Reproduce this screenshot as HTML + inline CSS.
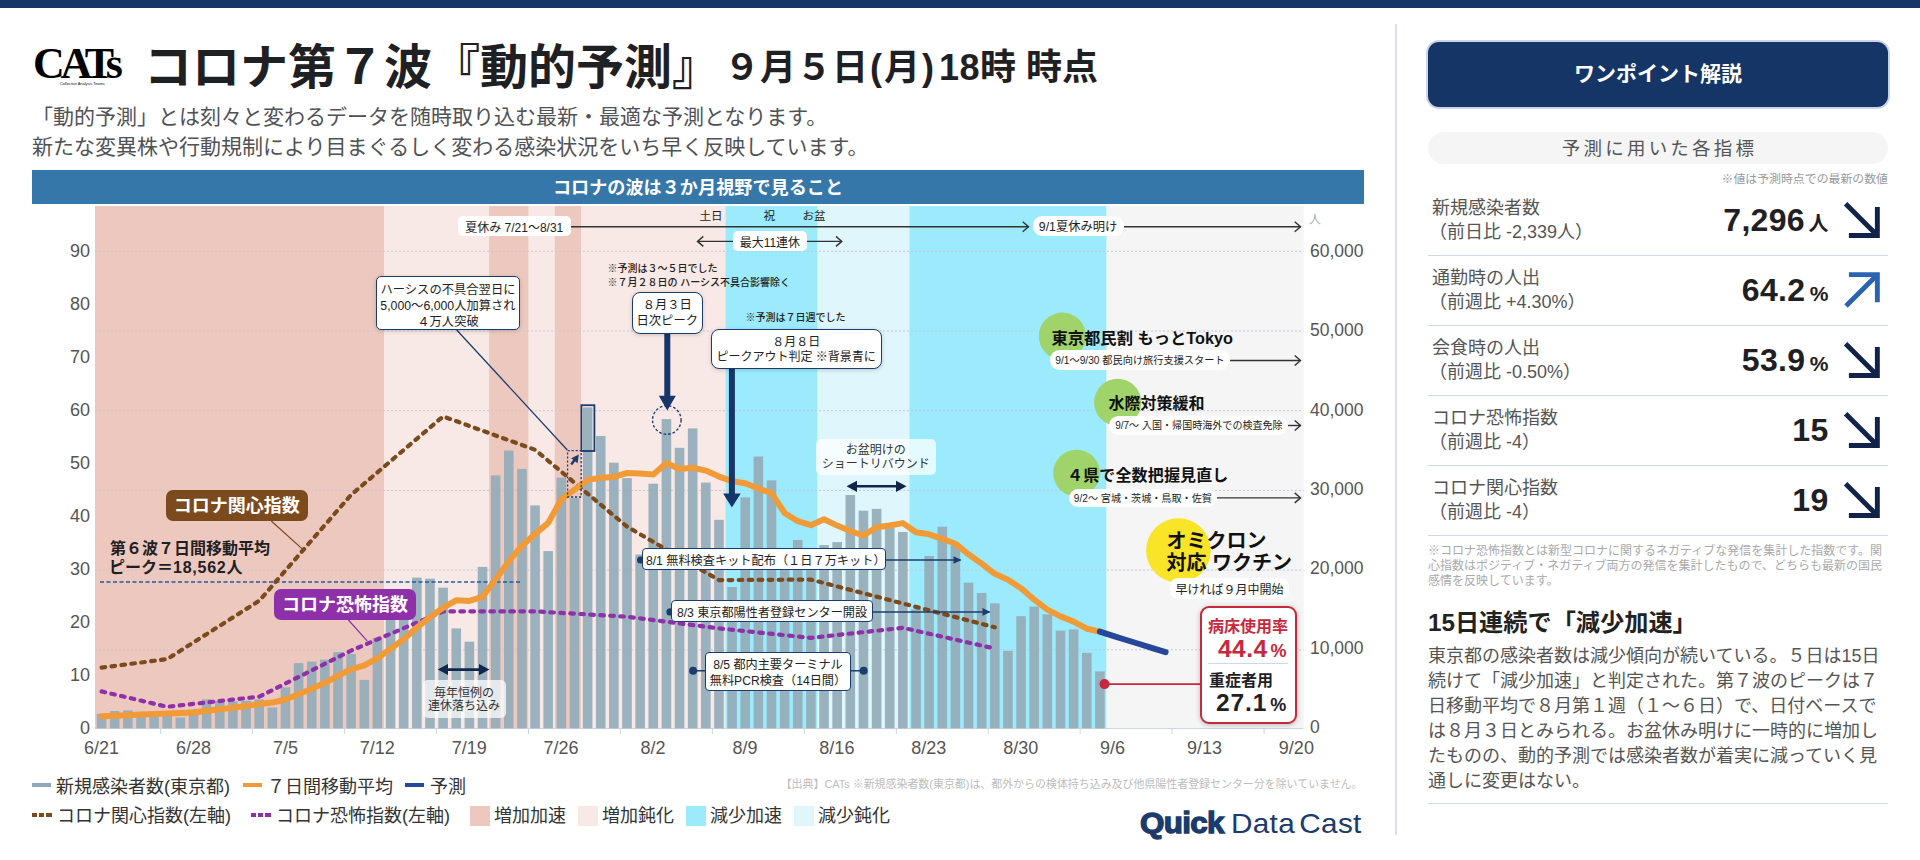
<!DOCTYPE html>
<html lang="ja">
<head>
<meta charset="utf-8">
<title>コロナ第７波『動的予測』</title>
<style>
*{box-sizing:border-box;margin:0;padding:0}
html,body{width:1920px;height:860px;overflow:hidden;background:#fff}
body{position:relative;font-family:"Liberation Sans","Noto Sans CJK JP",sans-serif;color:#222;}
.abs{position:absolute;white-space:nowrap}
.topbar{position:absolute;left:0;top:0;width:1920px;height:7.6px;background:#163668}
.logo{position:absolute;left:33px;top:38px;width:92px;height:52px}
.logo .w{position:absolute;left:0;top:0;font-family:"Liberation Serif","Noto Serif CJK SC",serif;font-weight:700;font-size:44px;line-height:52px;letter-spacing:-4.3px;color:#000;white-space:nowrap}
.logo .w small{font-size:33px;letter-spacing:-2px}
.logo .t{position:absolute;left:27px;top:42.6px;font-size:3.9px;line-height:5px;color:#111;white-space:nowrap;letter-spacing:0}
.title{position:absolute;left:144px;top:36.2px;font-size:48px;line-height:64px;font-weight:700;color:#1f2024;white-space:nowrap}
.date{position:absolute;left:724px;top:41px;font-size:36px;line-height:54px;font-weight:700;color:#1f2024;white-space:nowrap}
.sub{position:absolute;left:32px;font-size:21px;line-height:30px;color:#505256;white-space:nowrap}
.banner{position:absolute;left:32px;top:170px;width:1332px;height:33.5px;background:#3677aa;color:#fff;font-weight:700;font-size:18.15px;line-height:37px;text-align:center;overflow:hidden}
svg.chart{position:absolute;left:0;top:0}
.yl{position:absolute;width:60px;text-align:right;font-size:18px;line-height:20px;color:#555;left:30px}
.yr{position:absolute;left:1310px;font-size:17.5px;line-height:20px;color:#555}
.xl{position:absolute;width:80px;text-align:center;font-size:18px;line-height:20px;color:#555;top:737.5px}
.leg{position:absolute;font-size:18px;line-height:24px;color:#333;white-space:nowrap}
.leg i{position:absolute;display:block}
.src{position:absolute;right:557.5px;top:777px;font-size:10.95px;line-height:14px;color:#bdbdbd;white-space:nowrap}
.qdc{position:absolute;left:1140px;top:803px;height:40px;white-space:nowrap;color:#1b3b6d}
.qdc b{display:inline-block;font-size:29px;font-weight:700;letter-spacing:-0.6px;-webkit-text-stroke:1.3px #1b3b6d;line-height:40px;transform:scaleX(1.08);transform-origin:0 50%}
.qdc span{display:inline-block;font-size:27.5px;line-height:40px;margin-left:13px;letter-spacing:0.3px;word-spacing:-4px;transform:scaleX(1.08);transform-origin:0 50%}
.vdiv{position:absolute;left:1395px;top:24px;width:1.5px;height:811px;background:#d9dfec}
/* chart annotation boxes */
.pill{position:absolute;background:#fff;border-radius:7px;font-size:11.5px;line-height:19px;text-align:center;color:#222;white-space:nowrap}
.cbox{position:absolute;background:#fff;border:1.6px solid #1c3c6e;border-radius:6px;text-align:center;color:#222;white-space:nowrap;box-shadow:0 1px 4px rgba(0,0,0,.18)}
.tbox{position:absolute;background:rgba(255,255,255,.72);border-radius:5px;text-align:center;color:#333;white-space:nowrap;font-size:12px;line-height:15.5px}
.tag{position:absolute;border-radius:7px;color:#fff;font-weight:700;font-size:17.5px;text-align:center;white-space:nowrap}
.ev{position:absolute;font-weight:700;font-size:16px;line-height:22px;color:#111;white-space:nowrap}
.note{position:absolute;font-size:10px;line-height:14px;color:#222;white-space:nowrap;font-weight:500}
/* right panel */
.btn{position:absolute;left:1428px;top:42px;width:460px;height:65px;background:#163567;border-radius:11px;box-shadow:0 0 0 2px #ccd3ea;color:#fff;font-weight:700;font-size:21px;line-height:63.4px;text-align:center}
.gpill{position:absolute;left:1428px;top:132px;width:460px;height:32px;background:#f5f5f5;border-radius:16px;color:#555;font-size:18.5px;line-height:34px;text-align:center;letter-spacing:3.2px;overflow:hidden;padding-left:3px}
.rnote{position:absolute;right:32px;top:171px;font-size:11.9px;line-height:16px;color:#999;white-space:nowrap}
.row{position:absolute;left:1428px;width:460px;height:70px;border-bottom:1px solid #cfd8e6}
.row .l{position:absolute;left:4px;top:10px;font-size:18px;line-height:24px;color:#555;white-space:nowrap}
.row .l span{margin-left:-3px}
.row .v{position:absolute;right:59.5px;top:10.8px;font-weight:700;font-size:32px;letter-spacing:0.3px;line-height:46px;color:#1f2024;white-space:nowrap}
.row .v small{font-size:20px;margin-left:3.6px;letter-spacing:0}
.row .v small.p{font-size:21px;margin-left:4.5px}
.row svg{position:absolute;left:415px;top:15px}
.foot{position:absolute;left:1428px;top:544.2px;width:462px;font-size:12px;line-height:14.8px;color:#aaa;}
.h2{position:absolute;left:1428px;top:606px;font-size:24.2px;line-height:34px;font-weight:700;color:#222;white-space:nowrap}
.body{position:absolute;left:1428px;top:644px;width:466px;font-size:18px;line-height:25px;color:#555}
.bline{position:absolute;left:1428px;top:803px;width:460px;height:1px;background:#cfd8e3}
.bed{position:absolute;left:1199.7px;top:605.6px;width:97.6px;height:118.6px;background:#fff;border:2.6px solid #c8283c;border-radius:9px;box-shadow:0 1px 5px rgba(0,0,0,.25)}

</style>
</head>
<body>
<div class="topbar"></div>
<div class="logo"><div class="w">CATs</div><div class="t">Collective Analysis Teams</div></div>
<div class="title">コロナ第７波『動的予測』</div>
<div class="date">９月５日<span style="letter-spacing:2px;margin-left:2px">(月)</span><span style="letter-spacing:0.5px;margin-left:3px">18</span>時 時点</div>
<div class="sub" style="top:102px">「動的予測」とは刻々と変わるデータを随時取り込む最新・最適な予測となります。</div>
<div class="sub" style="top:132px">新たな変異株や行動規制により目まぐるしく変わる感染状況をいち早く反映しています。</div>
<div class="banner">コロナの波は３か月視野で見ること</div>
<svg class="chart" width="1400" height="860" viewBox="0 0 1400 860">
<rect x="95.00" y="206.0" width="289.29" height="522.0" fill="#edc8bf"/>
<rect x="383.99" y="206.0" width="105.39" height="522.0" fill="#f9e9e6"/>
<rect x="489.08" y="206.0" width="39.71" height="522.0" fill="#edc8bf"/>
<rect x="528.48" y="206.0" width="26.57" height="522.0" fill="#f9e9e6"/>
<rect x="554.76" y="206.0" width="26.57" height="522.0" fill="#edc8bf"/>
<rect x="581.03" y="206.0" width="144.79" height="522.0" fill="#f9e9e6"/>
<rect x="725.52" y="206.0" width="92.25" height="522.0" fill="#9cebfc"/>
<rect x="817.47" y="206.0" width="92.25" height="522.0" fill="#dff6fc"/>
<rect x="909.42" y="206.0" width="197.34" height="522.0" fill="#9cebfc"/>
<rect x="1106.46" y="206.0" width="197.34" height="522.0" fill="#f5f5f5"/>
<line x1="95.0" x2="1303.5" y1="649.8" y2="649.8" stroke="#c6c6de" stroke-width="1" stroke-dasharray="2 2"/>
<line x1="95.0" x2="1303.5" y1="570.1" y2="570.1" stroke="#c6c6de" stroke-width="1" stroke-dasharray="2 2"/>
<line x1="95.0" x2="1303.5" y1="490.4" y2="490.4" stroke="#c6c6de" stroke-width="1" stroke-dasharray="2 2"/>
<line x1="95.0" x2="1303.5" y1="410.7" y2="410.7" stroke="#c6c6de" stroke-width="1" stroke-dasharray="2 2"/>
<line x1="95.0" x2="1303.5" y1="331.0" y2="331.0" stroke="#c6c6de" stroke-width="1" stroke-dasharray="2 2"/>
<line x1="95.0" x2="1303.5" y1="251.3" y2="251.3" stroke="#c6c6de" stroke-width="1" stroke-dasharray="2 2"/>
<line x1="95.0" x2="1303.5" y1="728.5" y2="728.5" stroke="#cdd5e6" stroke-width="1"/>
<line x1="160.7" x2="160.7" y1="728.0" y2="734.0" stroke="#cdd5e6" stroke-width="1"/>
<line x1="252.6" x2="252.6" y1="728.0" y2="734.0" stroke="#cdd5e6" stroke-width="1"/>
<line x1="344.6" x2="344.6" y1="728.0" y2="734.0" stroke="#cdd5e6" stroke-width="1"/>
<line x1="436.5" x2="436.5" y1="728.0" y2="734.0" stroke="#cdd5e6" stroke-width="1"/>
<line x1="528.5" x2="528.5" y1="728.0" y2="734.0" stroke="#cdd5e6" stroke-width="1"/>
<line x1="620.4" x2="620.4" y1="728.0" y2="734.0" stroke="#cdd5e6" stroke-width="1"/>
<line x1="712.4" x2="712.4" y1="728.0" y2="734.0" stroke="#cdd5e6" stroke-width="1"/>
<line x1="804.3" x2="804.3" y1="728.0" y2="734.0" stroke="#cdd5e6" stroke-width="1"/>
<line x1="896.3" x2="896.3" y1="728.0" y2="734.0" stroke="#cdd5e6" stroke-width="1"/>
<line x1="988.2" x2="988.2" y1="728.0" y2="734.0" stroke="#cdd5e6" stroke-width="1"/>
<line x1="1080.2" x2="1080.2" y1="728.0" y2="734.0" stroke="#cdd5e6" stroke-width="1"/>
<line x1="1172.1" x2="1172.1" y1="728.0" y2="734.0" stroke="#cdd5e6" stroke-width="1"/>
<line x1="1264.1" x2="1264.1" y1="728.0" y2="734.0" stroke="#cdd5e6" stroke-width="1"/>
<g fill="#95adba" fill-opacity="0.94">
<rect x="96.77" y="713.9" width="9.6" height="14.5"/>
<rect x="109.90" y="711.0" width="9.6" height="17.4"/>
<rect x="123.04" y="710.4" width="9.6" height="18.0"/>
<rect x="136.18" y="712.2" width="9.6" height="16.2"/>
<rect x="149.31" y="712.4" width="9.6" height="16.0"/>
<rect x="162.45" y="713.6" width="9.6" height="14.8"/>
<rect x="175.58" y="717.5" width="9.6" height="10.9"/>
<rect x="188.72" y="709.6" width="9.6" height="18.8"/>
<rect x="201.85" y="699.3" width="9.6" height="29.1"/>
<rect x="214.99" y="700.7" width="9.6" height="27.7"/>
<rect x="228.13" y="701.3" width="9.6" height="27.1"/>
<rect x="241.26" y="700.8" width="9.6" height="27.6"/>
<rect x="254.40" y="699.4" width="9.6" height="29.0"/>
<rect x="267.53" y="707.5" width="9.6" height="20.9"/>
<rect x="280.67" y="687.3" width="9.6" height="41.1"/>
<rect x="293.81" y="663.1" width="9.6" height="65.3"/>
<rect x="306.94" y="661.6" width="9.6" height="66.8"/>
<rect x="320.08" y="659.6" width="9.6" height="68.8"/>
<rect x="333.21" y="652.1" width="9.6" height="76.3"/>
<rect x="346.35" y="654.0" width="9.6" height="74.4"/>
<rect x="359.49" y="679.9" width="9.6" height="48.5"/>
<rect x="372.62" y="637.8" width="9.6" height="90.6"/>
<rect x="385.76" y="595.0" width="9.6" height="133.4"/>
<rect x="398.89" y="596.7" width="9.6" height="131.7"/>
<rect x="412.03" y="577.6" width="9.6" height="150.8"/>
<rect x="425.16" y="578.7" width="9.6" height="149.7"/>
<rect x="438.30" y="587.7" width="9.6" height="140.7"/>
<rect x="451.44" y="628.4" width="9.6" height="100.0"/>
<rect x="464.57" y="641.7" width="9.6" height="86.7"/>
<rect x="477.71" y="566.9" width="9.6" height="161.5"/>
<rect x="490.84" y="475.4" width="9.6" height="253.0"/>
<rect x="503.98" y="450.5" width="9.6" height="277.9"/>
<rect x="517.12" y="468.9" width="9.6" height="259.5"/>
<rect x="530.25" y="505.4" width="9.6" height="223.0"/>
<rect x="543.39" y="551.1" width="9.6" height="177.3"/>
<rect x="556.52" y="477.7" width="9.6" height="250.7"/>
<rect x="569.66" y="498.1" width="9.6" height="230.3"/>
<rect x="582.80" y="407.4" width="9.6" height="321.0"/>
<rect x="595.93" y="436.0" width="9.6" height="292.4"/>
<rect x="609.07" y="462.7" width="9.6" height="265.7"/>
<rect x="622.20" y="478.1" width="9.6" height="250.3"/>
<rect x="635.34" y="554.5" width="9.6" height="173.9"/>
<rect x="648.47" y="483.7" width="9.6" height="244.7"/>
<rect x="661.61" y="419.1" width="9.6" height="309.3"/>
<rect x="674.75" y="447.8" width="9.6" height="280.6"/>
<rect x="687.88" y="428.4" width="9.6" height="300.0"/>
<rect x="701.02" y="482.6" width="9.6" height="245.8"/>
<rect x="714.15" y="519.8" width="9.6" height="208.6"/>
<rect x="727.29" y="587.0" width="9.6" height="141.4"/>
<rect x="740.43" y="497.4" width="9.6" height="231.0"/>
<rect x="753.56" y="456.5" width="9.6" height="271.9"/>
<rect x="766.70" y="480.4" width="9.6" height="248.0"/>
<rect x="779.83" y="566.9" width="9.6" height="161.5"/>
<rect x="792.97" y="540.0" width="9.6" height="188.4"/>
<rect x="806.10" y="548.3" width="9.6" height="180.1"/>
<rect x="819.24" y="545.1" width="9.6" height="183.3"/>
<rect x="832.38" y="542.1" width="9.6" height="186.3"/>
<rect x="845.51" y="495.0" width="9.6" height="233.4"/>
<rect x="858.65" y="510.7" width="9.6" height="217.7"/>
<rect x="871.78" y="508.9" width="9.6" height="219.5"/>
<rect x="884.92" y="528.0" width="9.6" height="200.4"/>
<rect x="898.06" y="532.0" width="9.6" height="196.4"/>
<rect x="911.19" y="609.3" width="9.6" height="119.1"/>
<rect x="924.33" y="556.0" width="9.6" height="172.4"/>
<rect x="937.46" y="526.7" width="9.6" height="201.7"/>
<rect x="950.60" y="545.2" width="9.6" height="183.2"/>
<rect x="963.74" y="582.7" width="9.6" height="145.7"/>
<rect x="976.87" y="593.0" width="9.6" height="135.4"/>
<rect x="990.01" y="603.3" width="9.6" height="125.1"/>
<rect x="1003.14" y="650.8" width="9.6" height="77.6"/>
<rect x="1016.28" y="616.2" width="9.6" height="112.2"/>
<rect x="1029.41" y="606.6" width="9.6" height="121.8"/>
<rect x="1042.55" y="614.4" width="9.6" height="114.0"/>
<rect x="1055.69" y="630.6" width="9.6" height="97.8"/>
<rect x="1068.82" y="629.4" width="9.6" height="99.0"/>
<rect x="1081.96" y="652.8" width="9.6" height="75.6"/>
<rect x="1095.09" y="671.4" width="9.6" height="57.0"/>
</g>
<line x1="100" x2="522" y1="582" y2="582" stroke="#1f5aa8" stroke-width="1.6" stroke-dasharray="4 2.5"/>
<polyline points="101.6,667.6 167.2,659.1 259.2,600.8 351.1,494.8 443.1,416.4 535.1,449.8 627.0,526.6 719.0,580.1 810.9,579.6 902.9,603.5 994.8,627.3" fill="none" stroke="#7b4a1d" stroke-width="4.2" stroke-dasharray="3.6 6.4" stroke-linecap="round" stroke-linejoin="round"/>
<polyline points="101.6,691.4 167.2,706.8 259.2,696.7 351.1,650.6 443.1,611.4 535.1,611.4 627.0,616.7 719.0,628.4 810.9,637.9 902.9,627.8 994.8,648.5" fill="none" stroke="#8e30a9" stroke-width="4.2" stroke-dasharray="3.6 6.4" stroke-linecap="round" stroke-linejoin="round"/>
<polyline points="101.6,716.2 114.7,715.8 127.8,715.2 141.0,714.5 154.1,713.9 167.2,713.5 180.4,713.0 193.5,712.4 206.7,710.7 219.8,709.3 232.9,707.8 246.1,706.1 259.2,704.1 272.3,702.6 285.5,699.5 298.6,694.3 311.7,688.7 324.9,682.8 338.0,675.8 351.1,669.3 364.3,665.4 377.4,658.3 390.6,648.6 403.7,639.3 416.8,627.6 430.0,617.1 443.1,607.7 456.2,600.3 469.4,600.9 482.5,596.8 495.6,579.5 508.8,561.4 521.9,545.7 535.1,533.9 548.2,522.9 561.3,499.4 574.5,489.6 587.6,479.9 600.7,477.8 613.9,476.9 627.0,473.0 640.1,473.5 653.3,474.4 666.4,463.1 679.5,468.9 692.7,467.8 705.8,470.6 719.0,476.6 732.1,481.2 745.2,483.2 758.4,488.5 771.5,493.2 784.6,513.0 797.8,521.2 810.9,525.2 824.0,519.3 837.2,525.6 850.3,531.1 863.4,535.5 876.6,527.2 889.7,525.5 902.9,523.1 916.0,532.3 929.1,534.3 942.3,538.8 955.4,543.7 968.5,554.3 981.7,563.6 994.8,573.8 1007.9,579.7 1021.1,588.3 1034.2,599.7 1047.4,609.6 1060.5,616.4 1073.6,621.6 1086.8,628.7 1099.9,631.6" fill="none" stroke="#f09b38" stroke-width="6" stroke-linejoin="round" stroke-linecap="round"/>
<polyline points="1099.9,631.6 1113.0,635.8 1126.2,640.0 1139.3,644.0 1152.4,648.1 1165.6,652.1" fill="none" stroke="#27479a" stroke-width="6" stroke-linejoin="round" stroke-linecap="round"/>
<defs>
<marker id="oh" markerWidth="10" markerHeight="12" refX="8" refY="6" orient="auto" markerUnits="userSpaceOnUse"><path d="M2.2 1 L8 6 L2.2 11" fill="none" stroke="#333" stroke-width="1.4"/></marker>
<marker id="fh" markerWidth="9" markerHeight="9" refX="7.5" refY="4.5" orient="auto" markerUnits="userSpaceOnUse"><path d="M0.5 0.7 L8.5 4.5 L0.5 8.3 Z" fill="#1c3c6e"/></marker>
<marker id="dh" markerWidth="12" markerHeight="12" refX="5" refY="6" orient="auto-start-reverse" markerUnits="userSpaceOnUse"><path d="M0 0.4 L10.5 6 L0 11.6 Z" fill="#12264b"/></marker>
</defs>
<!-- summer vacation line -->
<g stroke="#333" stroke-width="1.4" fill="none">
<line x1="570" y1="226.8" x2="1028.5" y2="226.8" marker-end="url(#oh)"/>
<line x1="1123" y1="226.8" x2="1300.5" y2="226.8" marker-end="url(#oh)"/>
<line x1="733" y1="241.4" x2="697.5" y2="241.4" marker-end="url(#oh)"/>
<line x1="806" y1="241.4" x2="841.8" y2="241.4" marker-end="url(#oh)"/>
<line x1="1229" y1="360.5" x2="1300.5" y2="360.5" marker-end="url(#oh)"/>
<line x1="1288" y1="425.5" x2="1300.5" y2="425.5" marker-end="url(#oh)"/>
<line x1="1216" y1="497.9" x2="1300.5" y2="497.9" marker-end="url(#oh)"/>
</g>
<!-- circles behind event labels -->
<circle cx="1062.4" cy="336.2" r="23.6" fill="#a0d46a"/>
<circle cx="1117.7" cy="402.4" r="23.6" fill="#a0d46a"/>
<circle cx="1076.6" cy="473.1" r="23.4" fill="#a0d46a"/>
<circle cx="1178.4" cy="550.5" r="32.3" fill="#f9e428"/>
<!-- Her-sys callout line, dashed rect, outlined bar -->
<g fill="none" stroke="#1c3c6e">
<line x1="456.7" y1="330" x2="567.3" y2="450" stroke-width="1.3"/>
<rect x="567.6" y="450.6" width="13.6" height="46.4" stroke-width="1.3" stroke-dasharray="2.2 1.8"/>
<rect x="581.4" y="405.2" width="13" height="45.8" stroke-width="1.8"/>
<circle cx="666.8" cy="420" r="14.3" stroke-width="1.4" stroke-dasharray="2.6 2"/>
<line x1="571.2" y1="464.6" x2="575" y2="459.6" stroke-width="2.4"/>
</g>
<path d="M578.8 454.4 L577.6 463.2 L571.2 458.2 Z" fill="#1c3c6e"/>
<!-- big arrows -->
<path d="M664.3 332 H670.3 V395.8 H675.8 L667.3 410.4 L658.8 395.8 H664.3 Z" fill="#16366a"/>
<path d="M728.9 368 H734.9 V493.4 H740.7 L731.9 507.4 L723.1 493.4 H728.9 Z" fill="#16366a"/>
<!-- double arrows -->
<g stroke="#12264b" stroke-width="2.6" fill="none">
<line x1="443.2" y1="669.6" x2="484" y2="669.6" marker-start="url(#dh)" marker-end="url(#dh)"/>
<line x1="852" y1="486.3" x2="901" y2="486.3" marker-start="url(#dh)" marker-end="url(#dh)"/>
</g>
<!-- tag leader lines -->
<line x1="271.3" y1="521" x2="303.6" y2="550.1" stroke="#7b4a1d" stroke-width="1.2"/>
<line x1="348.4" y1="620" x2="367.2" y2="640.9" stroke="#8e30a9" stroke-width="1.2"/>
<!-- event arrows -->
<g stroke="#1c3c6e" stroke-width="1.5" fill="#1c3c6e">
<circle cx="640.6" cy="560" r="3.6" stroke="none"/>
<line x1="885" y1="560" x2="960.5" y2="560" marker-end="url(#fh)"/>
<circle cx="670" cy="611.9" r="3.6" stroke="none"/>
<line x1="872" y1="611.9" x2="989.5" y2="611.9" marker-end="url(#fh)"/>
<line x1="693.1" y1="670.8" x2="863.7" y2="670.8"/>
<circle cx="693.1" cy="670.8" r="4" stroke="none"/>
<circle cx="863.7" cy="670.8" r="4" stroke="none"/>
</g>
<!-- bed usage -->
<line x1="1104.5" y1="684.1" x2="1200" y2="684.1" stroke="#c8283c" stroke-width="1.6"/>
<circle cx="1104.5" cy="684.1" r="5" fill="#c8283c"/>

</svg><div class="yl" style="top:717.5px">0</div>
<div class="yl" style="top:664.5px">10</div>
<div class="yl" style="top:611.5px">20</div>
<div class="yl" style="top:558.5px">30</div>
<div class="yl" style="top:505.5px">40</div>
<div class="yl" style="top:452.5px">50</div>
<div class="yl" style="top:399.5px">60</div>
<div class="yl" style="top:346.5px">70</div>
<div class="yl" style="top:293.5px">80</div>
<div class="yl" style="top:240.5px">90</div>
<div class="yr" style="top:717.2px">0</div>
<div class="yr" style="top:637.8px">10,000</div>
<div class="yr" style="top:558.3px">20,000</div>
<div class="yr" style="top:478.9px">30,000</div>
<div class="yr" style="top:399.5px">40,000</div>
<div class="yr" style="top:320.1px">50,000</div>
<div class="yr" style="top:240.6px">60,000</div>
<div class="abs" style="left:1309px;top:212px;font-size:12px;line-height:16px;color:#aaa">人</div>
<div class="xl" style="left:61.6px">6/21</div>
<div class="xl" style="left:153.5px">6/28</div>
<div class="xl" style="left:245.4px">7/5</div>
<div class="xl" style="left:337.3px">7/12</div>
<div class="xl" style="left:429.2px">7/19</div>
<div class="xl" style="left:521.1px">7/26</div>
<div class="xl" style="left:613.0px">8/2</div>
<div class="xl" style="left:705.0px">8/9</div>
<div class="xl" style="left:796.9px">8/16</div>
<div class="xl" style="left:888.8px">8/23</div>
<div class="xl" style="left:980.7px">8/30</div>
<div class="xl" style="left:1072.6px">9/6</div>
<div class="xl" style="left:1164.5px">9/13</div>
<div class="xl" style="left:1256.4px">9/20</div>
<div class="leg" style="left:56px;top:774.6px"><i style="left:-24px;top:8.4px;width:19px;height:4px;background:#8fa9b8"></i>新規感染者数(東京都)</div>
<div class="leg" style="left:267px;top:774.6px"><i style="left:-24px;top:8.4px;width:19px;height:4px;background:#f09b38"></i>７日間移動平均</div>
<div class="leg" style="left:430px;top:774.6px"><i style="left:-25px;top:8.4px;width:19px;height:4px;background:#27479a"></i>予測</div>
<div class="leg" style="left:57px;top:804px"><i style="left:-25px;top:9px;width:19.5px;height:4px;background:repeating-linear-gradient(90deg,#7b4a1d 0 5.2px,transparent 5.2px 7.15px)"></i>コロナ関心指数(左軸)</div>
<div class="leg" style="left:276px;top:804px"><i style="left:-25px;top:9px;width:19.5px;height:4px;background:repeating-linear-gradient(90deg,#8e30a9 0 5.2px,transparent 5.2px 7.15px)"></i>コロナ恐怖指数(左軸)</div>
<div class="leg" style="left:494px;top:804px"><i style="left:-24px;top:2px;width:20px;height:20px;background:#edc8bf"></i>増加加速</div>
<div class="leg" style="left:602px;top:804px"><i style="left:-24px;top:2px;width:20px;height:20px;background:#f9e9e6"></i>増加鈍化</div>
<div class="leg" style="left:710px;top:804px"><i style="left:-24px;top:2px;width:20px;height:20px;background:#9cebfc"></i>減少加速</div>
<div class="leg" style="left:818px;top:804px"><i style="left:-24px;top:2px;width:20px;height:20px;background:#dff6fc"></i>減少鈍化</div>
<div class="src">【出典】CATs ※新規感染者数(東京都)は、都外からの検体持ち込み及び他県陽性者登録センター分を除いていません。</div>
<div class="qdc"><b>Quick</b><span>Data Cast</span></div>
<div class="pill" style="left:458px;top:216.3px;width:112.5px;height:19.6px;border-radius:5px;font-size:12px;padding-top:2.5px">夏休み 7/21〜8/31</div>
<div class="pill" style="left:1032.6px;top:216.3px;width:91px;height:19.6px;border-radius:9px;font-size:12.3px;padding-top:2px">9/1夏休み明け</div>
<div class="abs" style="left:699.5px;top:208px;font-size:11.5px;line-height:17px;color:#222">土日</div>
<div class="abs" style="left:763.5px;top:208px;font-size:11.5px;line-height:17px;color:#222">祝</div>
<div class="abs" style="left:802.5px;top:208px;font-size:11.5px;line-height:17px;color:#222">お盆</div>
<div class="pill" style="left:732.8px;top:231.4px;width:74.2px;height:19.2px;border-radius:5px;font-size:12px;line-height:19px;padding-top:2.2px">最大11連休</div>
<div class="note" style="left:607.5px;top:261.5px">※予測は３〜５日でした</div>
<div class="note" style="left:607.5px;top:275.5px">※７月２８日の ハーシス不具合影響除く</div>
<div class="note" style="left:745.5px;top:311px">※予測は７日週でした</div>
<div class="cbox" style="left:375.7px;top:275.7px;width:144.6px;height:54.7px;border-radius:5px;font-size:12.3px;line-height:16px;padding-top:5.1px">ハーシスの不具合翌日に<br>5,000〜6,000人加算され<br>４万人突破</div>
<div class="cbox" style="left:631.6px;top:292.4px;width:71.3px;height:41.4px;border-radius:8px;font-size:12.3px;line-height:15.6px;padding-top:5.1px">８月３日<br>日次ピーク</div>
<div class="cbox" style="left:710.8px;top:328.7px;width:170.8px;height:40.7px;border-radius:8px;font-size:12px;line-height:15.6px;padding-top:5.1px">８月８日<br>ピークアウト判定 ※背景青に</div>
<div class="tag" style="left:166px;top:489.7px;width:141.6px;height:31.8px;line-height:33.4px;font-size:18px;background:#7b4a1d">コロナ関心指数</div>
<div class="tag" style="left:274.3px;top:588.8px;width:141.3px;height:31.6px;line-height:32px;font-size:18px;background:#8e30a9">コロナ恐怖指数</div>
<div class="abs" style="left:110px;top:539px;font-size:16px;line-height:19.4px;font-weight:700;color:#1f2024">第６波７日間移動平均<br><span style="margin-left:-1px">ピーク＝</span><span style="letter-spacing:0.75px">18,562</span>人</div>
<div class="tbox" style="left:422.5px;top:680.2px;width:83.2px;height:37.8px;font-size:12px;line-height:13.1px;padding-top:6.8px">毎年恒例の<br>連休落ち込み</div>
<div class="tbox" style="left:816px;top:438.6px;width:119.5px;height:36.8px;font-size:12px;line-height:14px;padding-top:4.5px">お盆明けの<br>ショートリバウンド</div>
<div class="cbox ev1" style="left:641.9px;top:547.9px;width:243.8px;height:22.4px;border-radius:4px;font-size:12.2px;line-height:19.4px;padding-top:3.2px;padding-left:3px;box-shadow:none">8/1 無料検査キット配布（１日７万キット）</div>
<div class="cbox ev1" style="left:671.4px;top:599.7px;width:201.2px;height:22.8px;border-radius:4px;font-size:12.15px;line-height:19.8px;padding-top:2.9px;box-shadow:none">8/3 東京都陽性者登録センター開設</div>
<div class="cbox ev1" style="left:705.3px;top:651.5px;width:145.3px;height:39px;border-radius:4px;font-size:12.15px;line-height:16px;padding-top:4px;box-shadow:none">8/5 都内主要ターミナル<br>無料PCR検査（14日間）</div>
<div class="ev" style="left:1051.5px;top:326.6px;font-size:16.3px">東京都民割 もっとTokyo</div>
<div class="pill" style="left:1050.1px;top:350.1px;width:179.8px;height:19.6px;border-radius:9.8px;font-size:10.2px;padding-top:0.8px">9/1〜9/30 都民向け旅行支援スタート</div>
<div class="ev" style="left:1108.5px;top:393.3px">水際対策緩和</div>
<div class="pill" style="left:1109.3px;top:415.7px;width:179.2px;height:19px;border-radius:9.5px;font-size:10.05px;padding-top:0.5px">9/7〜 入国・帰国時海外での検査免除</div>
<div class="ev" style="left:1067px;top:465px;letter-spacing:0.15px">４県で全数把握見直し</div>
<div class="pill" style="left:1068.6px;top:488.8px;width:148.5px;height:18.4px;border-radius:9.2px;font-size:10.1px;line-height:18px;padding-top:0.9px">9/2〜 宮城・茨城・鳥取・佐賀</div>
<div class="ev" style="left:1167.5px;top:531.4px;font-size:20px;line-height:21.3px;margin-left:-1px">オミクロン<br>対応 ワクチン</div>
<div class="pill" style="left:1169.7px;top:578.4px;width:119.6px;height:21px;border-radius:8px;font-size:12px;line-height:20.6px;padding-top:1.9px">早ければ９月中開始</div>
<div class="bed">
<div class="abs" style="left:6.4px;top:8px;font-size:16px;line-height:22px;font-weight:700;color:#c8283c">病床使用率</div>
<div class="abs" style="right:8.2px;top:27.2px;font-size:24.5px;letter-spacing:0.5px;line-height:28px;font-weight:700;color:#c8283c">44.4<span style="font-size:18px;font-weight:700;margin-left:3px">%</span></div>
<div class="abs" style="left:6px;top:55.3px;width:80px;height:1px;background:#cfd8e6"></div>
<div class="abs" style="left:7.2px;top:62.6px;font-size:16px;line-height:22px;font-weight:700;color:#1f2024">重症者用</div>
<div class="abs" style="right:8.2px;top:81.5px;font-size:24.5px;letter-spacing:0.9px;line-height:28px;font-weight:700;color:#1f2024">27.1<span style="font-size:18px;font-weight:700;margin-left:3px">%</span></div>
</div>
<div class="vdiv"></div>
<div class="btn">ワンポイント解説</div>
<div class="gpill">予測に用いた各指標</div>
<div class="rnote">※値は予測時点での最新の数値</div>
<div class="row" style="top:186px"><div class="l">新規感染者数<br><span>（前日比 -2,339人）</span></div><div class="v">7,296<small>人</small></div><svg width="40" height="40" viewBox="0 0 40 40"><path d="M34.35 6.1 V34.55 H5.9 M2.6 2.8 L34.35 34.55" fill="none" stroke="#11234a" stroke-width="4.9" stroke-linejoin="miter"/></svg></div>
<div class="row" style="top:256px"><div class="l">通勤時の人出<br><span>（前週比 +4.30%）</span></div><div class="v">64.2<small class="p">%</small></div><svg width="40" height="40" viewBox="0 0 40 40" style="top:15px"><path d="M5.9 3.65 H34.35 V31.3 M3 35 L34.35 3.65" fill="none" stroke="#2b63b0" stroke-width="4.9" stroke-linejoin="miter"/></svg></div>
<div class="row" style="top:326px"><div class="l">会食時の人出<br><span>（前週比 -0.50%）</span></div><div class="v">53.9<small class="p">%</small></div><svg width="40" height="40" viewBox="0 0 40 40"><path d="M34.35 6.1 V34.55 H5.9 M2.6 2.8 L34.35 34.55" fill="none" stroke="#11234a" stroke-width="4.9" stroke-linejoin="miter"/></svg></div>
<div class="row" style="top:396px"><div class="l">コロナ恐怖指数<br><span>（前週比 -4）</span></div><div class="v">15</div><svg width="40" height="40" viewBox="0 0 40 40"><path d="M34.35 6.1 V34.55 H5.9 M2.6 2.8 L34.35 34.55" fill="none" stroke="#11234a" stroke-width="4.9" stroke-linejoin="miter"/></svg></div>
<div class="row" style="top:466px"><div class="l">コロナ関心指数<br><span>（前週比 -4）</span></div><div class="v">19</div><svg width="40" height="40" viewBox="0 0 40 40"><path d="M34.35 6.1 V34.55 H5.9 M2.6 2.8 L34.35 34.55" fill="none" stroke="#11234a" stroke-width="4.9" stroke-linejoin="miter"/></svg></div>
<div class="foot">※コロナ恐怖指数とは新型コロナに関するネガティブな発信を集計した指数です。関心指数はポジティブ・ネガティブ両方の発信を集計したもので、どちらも最新の国民感情を反映しています。</div>
<div class="h2">15日連続で「減少加速」</div>
<div class="body">東京都の感染者数は減少傾向が続いている。５日は15日続けて「減少加速」と判定された。第７波のピークは７日移動平均で８月第１週（１〜６日）で、日付ベースでは８月３日とみられる。お盆休み明けに一時的に増加したものの、動的予測では感染者数が着実に減っていく見通しに変更はない。</div>
<div class="bline"></div>

</body>
</html>
